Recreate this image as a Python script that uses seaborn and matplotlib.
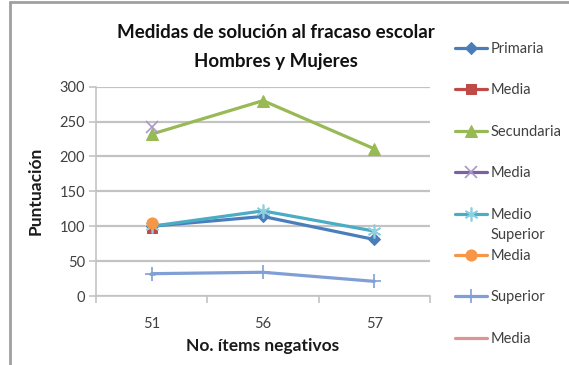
import matplotlib
matplotlib.use("Agg")
import matplotlib.pyplot as plt
from matplotlib.lines import Line2D
import seaborn as sns
import pandas as pd

# Category axis: number of negative items
items = ["51", "56", "57"]

# Score per school level across the three item groups
primaria = [100, 114, 81]
secundaria = [232, 280, 211]
medio_superior = [100, 122, 93]
superior = [32, 34, 21]

# "Media" series: a single value each, plotted at the first category
media_primaria = [98]
media_secundaria = [242]
media_medio_superior = [105]
media_superior = [31]

yticks = [0, 50, 100, 150, 200, 250, 300]

sns.set_theme(style="white")
plt.rcParams["font.family"] = ["Lato", "DejaVu Sans"]

fig = plt.figure(figsize=(5.69, 3.65), dpi=100)
ax = fig.add_axes([96 / 569, 1 - 296 / 365, (430 - 96) / 569, (296 - 86.7) / 365])

series = [
    ("Primaria", primaria,
     dict(color="#4A7EBB", marker="D", markersize=6, markeredgecolor="#4A7EBB"), 3),
    ("Media", media_primaria,
     dict(color="#BE4B48", marker="s", markersize=7, markeredgecolor="#BE4B48"), 3),
    ("Secundaria", secundaria,
     dict(color="#98B954", marker="^", markersize=8, markeredgecolor="#98B954"), 5),
    ("Media", media_secundaria,
     dict(color="#7D60A0", marker="x", markersize=8,
          markeredgecolor="#A898C8", markeredgewidth=1.2), 6),
    ("Medio", medio_superior,
     dict(color="#4BACC6", marker=(6, 2, 0), markersize=10,
          markeredgecolor="#8FD0E0", markeredgewidth=1.2), 4),
    ("Media", media_medio_superior,
     dict(color="#F79646", marker="o", markersize=8, markeredgecolor="#F79646"), 4.5),
    ("Superior", superior,
     dict(color="#7F9FD6", marker="+", markersize=10,
          markeredgecolor="#7F9FD6", markeredgewidth=1.2), 3),
    ("Media", media_superior,
     dict(color="#D99694", marker="_", markersize=5,
          markeredgecolor="#D99694", markeredgewidth=2), 2.5),
]

for label, values, style, z in series:
    df = pd.DataFrame({"pos": list(range(len(values))), "value": values})
    sns.lineplot(data=df, x="pos", y="value", ax=ax, label=label,
                 linewidth=2.3, zorder=z, **style)

ax.set_xlim(-0.5, 2.5)
ax.set_ylim(0, 300)
ax.set_yticks(yticks)
ax.set_yticklabels([str(v) for v in yticks])
ax.set_xticks(range(len(items)))
ax.set_xticklabels(items)
ax.set_xticks([-0.5, 0.5, 1.5, 2.5], minor=True)

grid_c = "#C3C3C3"
ax.yaxis.grid(True, color=grid_c, linewidth=1.6)
ax.set_axisbelow(True)
for s in ["top", "right"]:
    ax.spines[s].set_visible(False)
for s in ["left", "bottom"]:
    ax.spines[s].set_color(grid_c)
    ax.spines[s].set_linewidth(1.2)

ax.tick_params(axis="y", which="major", direction="out", length=5, width=1.2,
               color=grid_c, labelsize=10.5, labelcolor="#404040", pad=3, left=True)
ax.tick_params(axis="x", which="major", length=0, labelsize=10.5,
               labelcolor="#404040", pad=15)
ax.tick_params(axis="x", which="minor", direction="out", length=5, width=1.2,
               color=grid_c, bottom=True)

ax.set_xlabel("No. ítems negativos", fontsize=12.5, fontweight="bold",
              color="#1a1a1a", labelpad=5)
ax.set_ylabel("Puntuación", fontsize=12.5, fontweight="bold",
              color="#1a1a1a", labelpad=11)

fig.text(276 / 569, 1 - 33 / 365, "Medidas de solución al fracaso escolar",
         ha="center", va="center", fontsize=13.5, fontweight="bold", color="#111111")
fig.text(276 / 569, 1 - 62 / 365, "Hombres y Mujeres",
         ha="center", va="center", fontsize=13.5, fontweight="bold", color="#111111")

handles, labels = ax.get_legend_handles_labels()
ax.get_legend().remove()
leg = fig.legend(handles, labels, loc="upper left",
                 bbox_to_anchor=(455 / 569, 1 - 42 / 365), frameon=False,
                 fontsize=10.5, labelspacing=1.88, handlelength=2.2,
                 handletextpad=0.25, borderpad=0, borderaxespad=0)
for t in leg.get_texts():
    t.set_color("#404040")

# second line of the "Medio Superior" label, set just under its first line
fig.canvas.draw()
renderer = fig.canvas.get_renderer()
medio = leg.get_texts()[4]
bb = medio.get_window_extent(renderer)
fig.text(bb.x0 / fig.bbox.width, (bb.y0 - 20) / fig.bbox.height, "Superior",
         ha="left", va="bottom", fontsize=10.5, color="#404040")

# chart frame edges
border = "#A0A0A0"
fig.add_artist(Line2D([9.5 / 569, 9.5 / 569], [0, 1 - 1.5 / 365],
                      transform=fig.transFigure, color=border, linewidth=2))
fig.add_artist(Line2D([9.5 / 569, 1], [1 - 1.5 / 365, 1 - 1.5 / 365],
                      transform=fig.transFigure, color=border, linewidth=2))

fig.savefig("out.png", dpi=100)
